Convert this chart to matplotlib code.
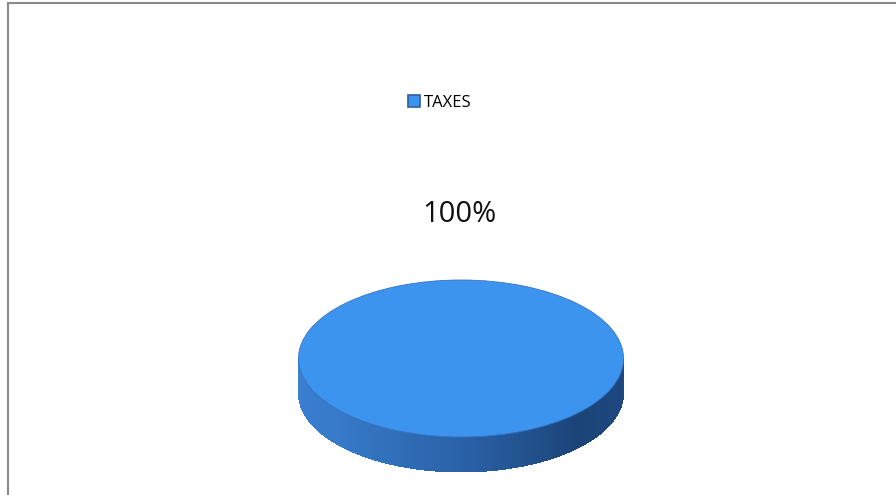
import numpy as np
import matplotlib.pyplot as plt
from matplotlib.patches import Rectangle, Polygon
from matplotlib.transforms import Affine2D
from matplotlib.colors import LinearSegmentedColormap

plt.rcParams['font.family'] = ['Open Sans', 'DejaVu Sans']

categories = ['TAXES']
values = [100]

top_color = '#3d94ee'
side_cmap = LinearSegmentedColormap.from_list(
    'side', ['#1e4a82', '#1c4478', '#2a62a8', '#3679c8', '#3b80d2'])

fig = plt.figure(figsize=(8.96, 4.95), dpi=100)
ax = fig.add_axes([0, 0, 1, 1])

# pie geometry in pixel units (y grows downward)
cx, cy = 461, 358.5
rx, ry = 162.5, 78.5
depth = 35

# side wall of the disc, front half only, shaded left to right
t = np.linspace(0, np.pi, 241)
for i in range(len(t) - 1):
    t0, t1 = t[i], min(t[i + 1] + 0.004, np.pi)
    x0, x1 = cx + rx * np.cos(t0), cx + rx * np.cos(t1)
    y0, y1 = cy + ry * np.sin(t0), cy + ry * np.sin(t1)
    quad = [(x0, y0), (x1, y1), (x1, y1 + depth), (x0, y0 + depth)]
    ax.add_patch(Polygon(quad, closed=True, facecolor=side_cmap(t0 / np.pi),
                         edgecolor='none', antialiased=False))

# top face from the pie wedges, squashed into an ellipse
wedges, _ = ax.pie(values, colors=[top_color], startangle=90,
                   center=(cx, cy), radius=rx, frame=True,
                   wedgeprops=dict(edgecolor='#3474c0', linewidth=0.6))
squash = Affine2D().translate(-cx, -cy).scale(1, ry / rx).translate(cx, cy)
for w in wedges:
    w.set_transform(squash + ax.transData)
    w.set_zorder(3)

pct = values[0] / sum(values) * 100
ax.text(459, 214, f'{pct:.0f}%', ha='center', va='center', fontsize=21,
        color='#111111')

leg = ax.legend(wedges, categories, loc='center', bbox_to_anchor=(0.491, 0.792),
                frameon=False, fontsize=12, handlelength=0.7, handleheight=0.7,
                handletextpad=0.25)
for h in leg.legend_handles:
    h.set_edgecolor('#2f5f9e')
    h.set_linewidth(1.2)

ax.set_xlim(0, 896)
ax.set_ylim(495, 0)
ax.set_aspect('auto')
ax.axis('off')

# chart area border
fig.add_artist(Rectangle((8 / 896, -0.1), 1.2, 1 - 3 / 495 + 0.1,
                         transform=fig.transFigure, fill=False,
                         edgecolor='#8a8a8a', linewidth=1.5))

fig.savefig('out.png', dpi=100, facecolor='white')
